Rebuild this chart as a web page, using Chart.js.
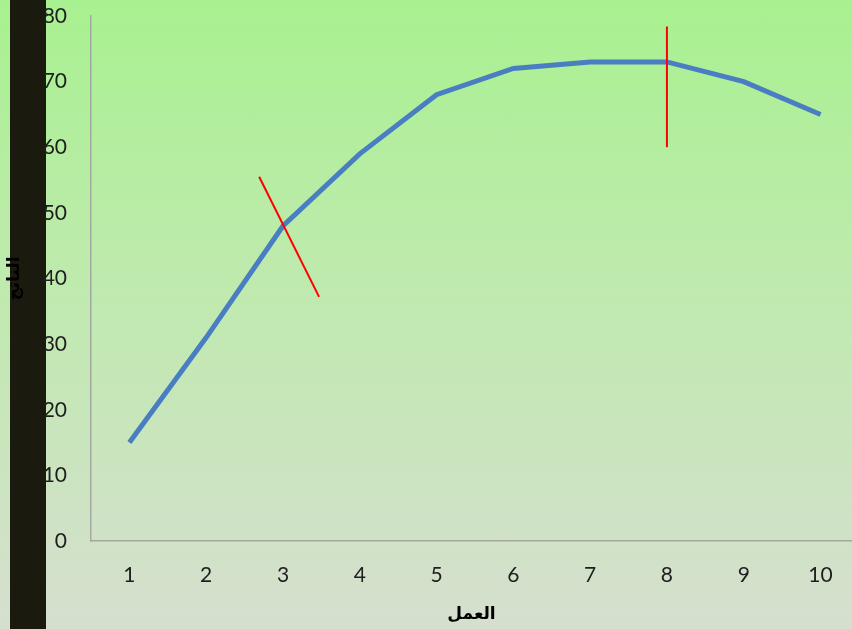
<!DOCTYPE html>
<html>
<head>
<meta charset="utf-8">
<script src="https://cdn.jsdelivr.net/npm/chart.js@4"></script>
<style>
  html, body { margin: 0; padding: 0; }
  body {
    width: 852px; height: 629px; overflow: hidden; position: relative;
    background: linear-gradient(to bottom, #a8f190 0%, #bfeaae 45%, #d6dfcf 100%);
  }
  .bar { position: absolute; left: 10px; top: 0; width: 36px; height: 629px; background: #1b1a0e; }
  .wrap { position: absolute; left: 0; top: 0; width: 852px; height: 629px; }
</style>
</head>
<body>
<div class="bar"></div>
<div class="wrap"><canvas id="myChart" width="852" height="629"></canvas></div>
<script>
const labour = [1, 2, 3, 4, 5, 6, 7, 8, 9, 10]
const output = [15, 31, 48, 59, 68, 72, 73, 73, 70, 65]
const yTicks = [0, 10, 20, 30, 40, 50, 60, 70, 80]
// red marks: tangent at L=3 and the vertical at the max (L=8)
const tangentX = [2.69, 3.47]
const tangentY = [55.5, 37.2]
const maxLineX = [8, 8]
const maxLineY = [78.4, 60]

const toPoints = (xs, ys) => xs.map((x, i) => ({ x: x, y: ys[i] }))

const ctx = document.getElementById('myChart').getContext('2d')
const myChart = new Chart(ctx, {
    type: 'line',
    data: {
        datasets: [
            {
                label: 'output',
                data: toPoints(labour, output),
                borderColor: '#4a7ec2',
                borderWidth: 5,
                pointRadius: 0,
                tension: 0,
                order: 2
            },
            {
                label: 'tangent',
                data: toPoints(tangentX, tangentY),
                borderColor: '#ff0000',
                borderWidth: 2,
                pointRadius: 0,
                order: 1
            },
            {
                label: 'max',
                data: toPoints(maxLineX, maxLineY),
                borderColor: '#ff0000',
                borderWidth: 2,
                pointRadius: 0,
                order: 1
            }
        ]
    },
    options: {
        responsive: false,
        animation: false,
        layout: { padding: { top: 16, right: 0, left: 0, bottom: 0 } },
        plugins: { legend: { display: false }, tooltip: { enabled: false } },
        scales: {
            x: {
                type: 'linear',
                min: 0.5,
                max: 10.41,
                afterBuildTicks: (scale) => { scale.ticks = labour.map(v => ({ value: v })) },
                afterFit: (scale) => {
                    scale.height = 88
                    scale.paddingLeft = 0
                    scale.paddingRight = 0
                },
                grid: { display: false, drawTicks: false },
                border: { color: '#a3a8a0', width: 1.5 },
                ticks: {
                    padding: 22,
                    color: '#1e1e1e',
                    font: { family: 'Lato', size: 21 },
                    maxRotation: 0
                },
                title: {
                    display: true,
                    text: 'العمل',
                    color: '#000',
                    font: { family: 'DejaVu Sans', size: 17, weight: 'bold' },
                    padding: { top: 4 }
                }
            },
            y: {
                min: 0,
                max: 80,
                afterBuildTicks: (scale) => { scale.ticks = yTicks.map(v => ({ value: v })) },
                afterFit: (scale) => {
                    scale.width = 91
                    scale.paddingTop = 0
                    scale.paddingBottom = 0
                },
                grid: { display: false, drawTicks: false },
                border: { color: '#a3a8a0', width: 1.5 },
                ticks: {
                    padding: 24,
                    color: '#1e1e1e',
                    font: { family: 'Lato', size: 21 }
                },
                title: {
                    display: true,
                    text: 'الناتج',
                    color: '#000',
                    font: { family: 'DejaVu Sans', size: 17, weight: 'bold' },
                    padding: { top: 4, bottom: 0 }
                }
            }
        }
    }
})
</script>
</body>
</html>
